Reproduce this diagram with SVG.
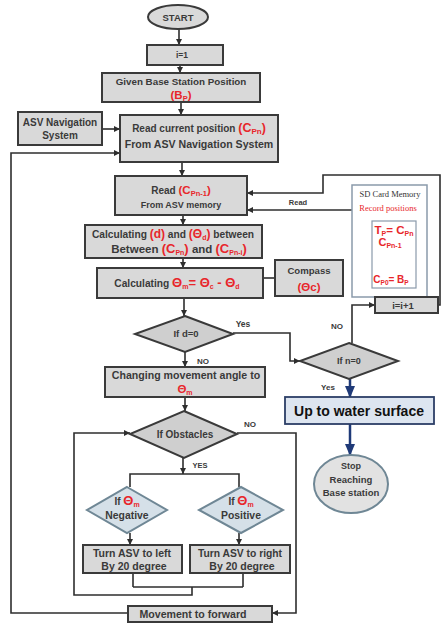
<svg xmlns="http://www.w3.org/2000/svg" width="441" height="625" viewBox="0 0 441 625" font-size="10">
<defs>
<style>
.box{fill:#d9d9d9;stroke:#3a3a3a;stroke-width:2}
.dia{fill:#cfcfcf;stroke:#3a3a3a;stroke-width:2}
.bdia{fill:#d5e0e8;stroke:#6f8795;stroke-width:2}
.t{font-family:"Liberation Sans",Arial,sans-serif;font-weight:bold;fill:#3a3a3a;text-anchor:middle}
.r{fill:#e8262b}
.s{font-family:"Liberation Serif","Times New Roman",serif;text-anchor:middle}
.ln{fill:none;stroke:#2e2e2e;stroke-width:1.6}
.bl{fill:none;stroke:#1f3a78;stroke-width:2.5}
</style>
<marker id="a" markerWidth="6" markerHeight="6" refX="6" refY="3" orient="auto" markerUnits="userSpaceOnUse"><path d="M0,0 L6,3 L0,6 z" fill="#2e2e2e"/></marker>
<marker id="b" markerWidth="12" markerHeight="10" refX="11" refY="5" orient="auto" markerUnits="userSpaceOnUse"><path d="M0,0 L12,5 L0,10 z" fill="#1f3a78"/></marker>
</defs>

<g id="connectors">
<path class="ln" d="M179,29 V45" marker-end="url(#a)"/>
<path class="ln" d="M180,65 V73" marker-end="url(#a)"/>
<path class="ln" d="M181,102 V115" marker-end="url(#a)"/>
<path class="ln" d="M102,129 H120" marker-end="url(#a)"/>
<path class="ln" d="M182,162 V176" marker-end="url(#a)"/>
<path class="ln" d="M183,215 V225" marker-end="url(#a)"/>
<path class="ln" d="M183,258 V268" marker-end="url(#a)"/>
<path class="ln" d="M263,278 H275"/>
<path class="ln" d="M184,298 V316" marker-end="url(#a)"/>
<path class="ln" d="M185,352 V367" marker-end="url(#a)"/>
<path class="ln" d="M185,397 V411" marker-end="url(#a)"/>
<path class="ln" d="M233,333 H290 V361 H300" marker-end="url(#a)"/>
<path class="ln" d="M352,343 V305 H375" marker-end="url(#a)"/>
<path class="ln" d="M438,305 H440 V175 H323 V193 H247" marker-end="url(#a)"/>
<path class="ln" d="M352,210 H247" marker-end="url(#a)"/>
<path class="bl" d="M350,379 V397" marker-end="url(#b)"/>
<path class="bl" d="M350,424 V455" marker-end="url(#b)"/>
<path class="ln" d="M183,458 V474" marker-end="url(#a)"/>
<path class="ln" d="M130,487 V474 H239 V487"/>
<path class="ln" d="M130,533 V545" marker-end="url(#a)"/>
<path class="ln" d="M239,533 V545" marker-end="url(#a)"/>
<path class="ln" d="M133,573 V587 M243,573 V587 M133,587 H243"/>
<path class="ln" d="M192,587 V595 H74 V433 H130" marker-end="url(#a)"/>
<path class="ln" d="M237,433 H296 V613 H272" marker-end="url(#a)"/>
<path class="ln" d="M128,613 H11 V153 H120" marker-end="url(#a)"/>
<path d="M382,249 V273" stroke="#888" stroke-width="1.2" stroke-dasharray="1,1.5"/>
</g>

<g id="start">
<ellipse cx="178" cy="17" rx="30" ry="12" fill="#d9d9d9" stroke="#3a3a3a" stroke-width="2"/>
<text class="t" x="178" y="21" font-size="9.5">START</text>
</g>
<g id="init">
<rect class="box" x="147" y="45" width="76" height="20"/>
<text class="t" x="182" y="58" font-size="8.5">i=1</text>
</g>
<g id="base">
<rect class="box" x="102" y="73" width="158" height="29"/>
<text class="t" x="181" y="85" font-size="9.8">Given Base Station Position</text>
<text class="t r" x="181" y="99" font-size="11.5">(B<tspan font-size="7.5" dy="2">P</tspan><tspan dy="-2">)</tspan></text>
</g>
<g id="nav">
<rect class="box" x="18" y="112" width="84" height="33"/>
<text class="t" x="60" y="126">ASV Navigation</text>
<text class="t" x="60" y="139">System</text>
</g>
<g id="readcur">
<rect class="box" x="120" y="115" width="158" height="47"/>
<text class="t" x="199" y="132" font-size="10">Read current position <tspan class="r" font-size="12.5">(C<tspan font-size="8" dy="2">Pn</tspan><tspan dy="-2">)</tspan></tspan></text>
<text class="t" x="199" y="148" font-size="10.6">From ASV Navigation System</text>
</g>
<g id="readmem">
<rect class="box" x="115" y="176" width="132" height="39"/>
<text class="t" x="181" y="194">Read <tspan class="r" font-size="11.5">(C<tspan font-size="7.5" dy="2">Pn-1</tspan><tspan dy="-2">)</tspan></tspan></text>
<text class="t" x="181" y="208" font-size="9">From ASV memory</text>
</g>
<g id="sd">
<rect x="352" y="185" width="75" height="112" fill="#fff" stroke="#8a9aab" stroke-width="1.5"/>
<text class="s" x="390" y="197" fill="#333" font-size="8.5">SD Card Memory</text>
<text class="s" x="388" y="211" fill="#e8262b" font-size="8.5">Record positions</text>
<rect x="372" y="221" width="44" height="67" fill="#fff" stroke="#8a9aab" stroke-width="1.2"/>
<text class="t r" x="394" y="234" font-size="11.5">T<tspan font-size="7" dy="2">P</tspan><tspan dy="-2">= C</tspan><tspan font-size="7" dy="2">Pn</tspan></text>
<text class="t r" x="390" y="246" font-size="11">C<tspan font-size="7" dy="2">Pn-1</tspan></text>
<text class="t r" x="391" y="283" font-size="10">C<tspan font-size="6.5" dy="2">P0</tspan><tspan dy="-2">= B</tspan><tspan font-size="6.5" dy="2">P</tspan></text>
</g>
<text class="t" x="298" y="205" font-size="7.5">Read</text>
<g id="calcd">
<rect class="box" x="85" y="225" width="177" height="33"/>
<text class="t" x="173" y="238" font-size="10.2">Calculating <tspan class="r" font-size="12">(d)</tspan> and <tspan class="r" font-size="12">(Θ<tspan font-size="7" dy="2">d</tspan><tspan dy="-2">)</tspan></tspan> between</text>
<text class="t" x="179" y="253" font-size="11.5">Between <tspan class="r" font-size="13">(C<tspan font-size="7" dy="2">Pn</tspan><tspan dy="-2">)</tspan></tspan> and <tspan class="r" font-size="13">(C<tspan font-size="7" dy="2">Pn-i</tspan><tspan dy="-2">)</tspan></tspan></text>
</g>
<g id="calcm">
<rect class="box" x="97" y="268" width="166" height="30"/>
<text class="t" x="177" y="287" font-size="10.2">Calculating <tspan class="r" font-size="13">Θ<tspan font-size="7" dy="2">m</tspan><tspan dy="-2">= Θ</tspan><tspan font-size="7" dy="2">c</tspan><tspan dy="-2"> - Θ</tspan><tspan font-size="7" dy="2">d</tspan></tspan></text>
</g>
<g id="compass">
<rect class="box" x="275" y="260" width="68" height="36"/>
<text class="t" x="309" y="274" font-size="9.6">Compass</text>
<text class="t r" x="309" y="291" font-size="11.5">(Θc)</text>
</g>
<g id="ifd">
<polygon class="dia" points="185,316 233,334 185,352 135,334"/>
<text class="t" x="186" y="337" font-size="9.5">If d=0</text>
</g>
<text class="t" x="243" y="327" font-size="8.5">Yes</text>
<text class="t" x="203" y="364" font-size="8">NO</text>
<g id="change">
<rect class="box" x="105" y="367" width="160" height="30"/>
<text class="t" x="186" y="379" font-size="10.6">Changing movement angle to</text>
<text class="t r" x="185" y="393" font-size="11.5">Θ<tspan font-size="7" dy="2">m</tspan></text>
</g>
<g id="obst">
<polygon class="dia" points="184,411 237,434 184,458 130,434"/>
<text class="t" x="185" y="438">If Obstacles</text>
</g>
<text class="t" x="250" y="427" font-size="8">NO</text>
<text class="t" x="200" y="468" font-size="7.5">YES</text>
<g id="neg">
<polygon class="bdia" points="127,487 167,510 127,533 87,510"/>
<text class="t" x="127" y="505">If <tspan class="r" font-size="13">Θ<tspan font-size="7" dy="2">m</tspan></tspan></text>
<text class="t" x="127" y="519" font-size="10.4">Negative</text>
</g>
<g id="pos">
<polygon class="bdia" points="241,487 283,510 241,533 199,510"/>
<text class="t" x="241" y="505">If <tspan class="r" font-size="13">Θ<tspan font-size="7" dy="2">m</tspan></tspan></text>
<text class="t" x="241" y="519" font-size="10.4">Positive</text>
</g>
<g id="left">
<rect class="box" x="83" y="545" width="99" height="28"/>
<text class="t" x="132" y="557" font-size="10.5">Turn ASV to left</text>
<text class="t" x="134" y="570" font-size="10.5">By 20 degree</text>
</g>
<g id="right">
<rect class="box" x="190" y="545" width="100" height="28"/>
<text class="t" x="240" y="557" font-size="10.3">Turn ASV to right</text>
<text class="t" x="242" y="570" font-size="10.5">By 20 degree</text>
</g>
<g id="forward">
<rect class="box" x="128" y="606" width="144" height="16"/>
<text class="t" x="193" y="618" font-size="10.6">Movement to forward</text>
</g>
<g id="ifn">
<polygon class="dia" points="349,343 398,361 349,379 300,361"/>
<text class="t" x="349" y="364" font-size="9">If n=0</text>
</g>
<text class="t" x="337" y="329" font-size="8">NO</text>
<text class="t" x="328" y="390" font-size="8">Yes</text>
<g id="inc">
<rect class="box" x="375" y="297" width="63" height="16"/>
<text class="t" x="403" y="308.5" font-size="9.5">i=i+1</text>
</g>
<g id="up">
<rect x="285" y="397" width="149" height="27" fill="#dde5f0" stroke="#2c3e66" stroke-width="1.8"/>
<text class="t" x="359" y="416" font-size="14" style="fill:#111">Up to water surface</text>
</g>
<g id="stop">
<ellipse cx="351" cy="484" rx="37" ry="29" fill="#e2e2e2" stroke="#6f8795" stroke-width="2"/>
<text class="t" x="351" y="469" font-size="9">Stop</text>
<text class="t" x="351" y="483" font-size="9.5">Reaching</text>
<text class="t" x="351" y="496" font-size="9.5">Base station</text>
</g>
</svg>
